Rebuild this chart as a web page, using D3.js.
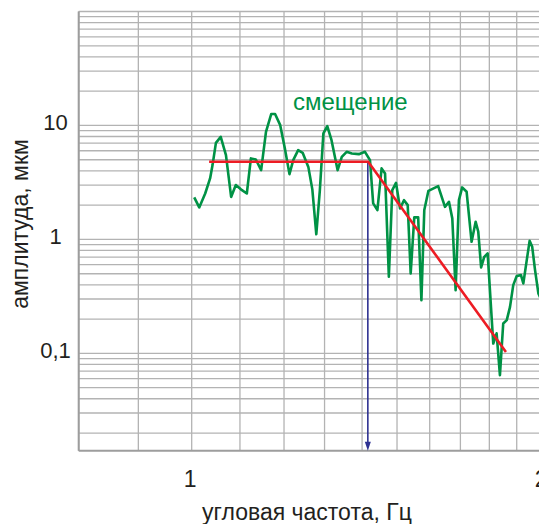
<!DOCTYPE html>
<html>
<head>
<meta charset="utf-8">
<script src="https://cdnjs.cloudflare.com/ajax/libs/d3/7.8.5/d3.min.js"></script>
<style>
  body { margin: 0; background: #fff; overflow: hidden; }
  text { font-family: "Liberation Sans", Arial, sans-serif; fill: #231f20; }
</style>
</head>
<body>
<svg class="chart"></svg>
<script>
// measured spectrum (angular frequency, Hz)
var freq = [1.005, 1.015, 1.027, 1.037, 1.042, 1.049, 1.059, 1.070, 1.081, 1.091,
  1.102, 1.115, 1.124, 1.135, 1.147, 1.158, 1.170, 1.179, 1.191, 1.202,
  1.213, 1.222, 1.234, 1.245, 1.259, 1.269, 1.279, 1.288, 1.297, 1.307,
  1.318, 1.334, 1.345, 1.358, 1.372, 1.391, 1.408, 1.422, 1.431, 1.443,
  1.455, 1.465, 1.476, 1.486, 1.497, 1.509, 1.521, 1.532, 1.541, 1.552,
  1.564, 1.574, 1.583, 1.596, 1.627, 1.649, 1.662, 1.673, 1.684, 1.695,
  1.706, 1.721, 1.738, 1.752, 1.761, 1.771, 1.782, 1.794, 1.814, 1.826,
  1.838, 1.850, 1.863, 1.875, 1.887, 1.900, 1.916, 1.925, 1.938, 1.949,
  1.959, 1.970, 1.983, 1.995];
// displacement amplitude, um
var ampl = [2.34, 1.91, 2.53, 3.43, 4.49, 7.04, 7.94, 5.49, 2.36, 3.00,
  2.75, 2.53, 5.14, 5.03, 4.05, 8.79, 12.6, 12.6, 10.06, 6.28,
  3.74, 4.96, 6.07, 5.75, 4.33, 2.75, 1.11, 2.71, 8.51, 9.86,
  7.43, 4.05, 5.30, 5.87, 5.68, 5.60, 5.87, 4.96, 2.07, 1.81,
  4.20, 3.79, 0.470, 2.71, 3.14, 1.87, 2.21, 2.00, 0.503, 1.56,
  1.56, 0.293, 1.81, 2.67, 2.94, 1.93, 2.14, 1.53, 0.359, 2.21,
  2.86, 2.62, 0.953, 1.43, 1.17, 0.568, 0.703, 0.754, 0.122, 0.150,
  0.0645, 0.183, 0.196, 0.256, 0.397, 0.477, 0.486, 0.411, 0.658, 0.972,
  0.861, 0.538, 0.336, 0.293];

// fitted asymptotes
var fitFreq = [1.035, 1.417, 1.860];
var fitAmpl = [4.8, 4.8, 0.103];

// corner frequency marker
var cornerFreq = 1.416;
var cornerAmpl = 4.8;

var yTicks = [10, 1, 0.1];
var yTickLabels = ["10", "1", "0,1"];
var xTicks = [1, 2];
var xTickLabels = ["1", "2"];

var width = 539,
  height = 524,
  plotLeft = 78.7,
  plotTop = 11.5,
  plotBottom = 450.7,
  decadeX = 1166;

var xMin = 0.8, xMax = 2.1;
var x = d3.scaleLog()
  .domain([xMin, xMax])
  .range([plotLeft, plotLeft + decadeX * Math.log10(xMax / xMin)]);

var y = d3.scaleLog()
  .domain([0.014, 100])
  .range([plotBottom, plotTop]);

var chart = d3.select(".chart").attr("width", width).attr("height", height);

// grid
var vLines = d3.range(8, 21).map(function(k) { return k / 10; });
var hLines = [];
[0.01, 0.1, 1, 10].forEach(function(p) {
  for (var k = 1; k <= 9; k++) {
    var v = k * p;
    if (v >= 0.014 && v <= 100) hLines.push(v);
  }
});
hLines.push(100);

chart.append("g").selectAll("line")
  .data(hLines)
  .enter()
  .append("line")
  .attr("x1", plotLeft)
  .attr("x2", width)
  .attr("y1", function(d) { return y(d); })
  .attr("y2", function(d) { return y(d); })
  .attr("stroke", "#b3b3b3")
  .attr("stroke-width", 1.3);

chart.append("g").selectAll("line")
  .data(vLines)
  .enter()
  .append("line")
  .attr("x1", function(d) { return x(d); })
  .attr("x2", function(d) { return x(d); })
  .attr("y1", y(100))
  .attr("y2", plotBottom)
  .attr("stroke", "#b3b3b3")
  .attr("stroke-width", 1.3);

// frame (left and bottom)
chart.append("line")
  .attr("x1", plotLeft).attr("x2", plotLeft)
  .attr("y1", y(100)).attr("y2", plotBottom)
  .attr("stroke", "#9d9d9d").attr("stroke-width", 2);
chart.append("line")
  .attr("x1", plotLeft).attr("x2", width)
  .attr("y1", plotBottom).attr("y2", plotBottom)
  .attr("stroke", "#9d9d9d").attr("stroke-width", 2);

// tick labels
chart.append("g").selectAll("text")
  .data(yTicks)
  .enter()
  .append("text")
  .attr("x", 55.5)
  .attr("y", function(d) { return y(d) - 3.5; })
  .attr("dy", "0.36em")
  .attr("text-anchor", "middle")
  .attr("font-size", 22)
  .text(function(d, i) { return yTickLabels[i]; });

chart.append("g").selectAll("text")
  .data(xTicks)
  .enter()
  .append("text")
  .attr("x", function(d) { return x(d) - 1.5; })
  .attr("y", 487)
  .attr("text-anchor", "middle")
  .attr("font-size", 23)
  .text(function(d, i) { return xTickLabels[i]; });

// axis titles
chart.append("text")
  .attr("transform", "translate(28," + 224 + ") rotate(-90)")
  .attr("text-anchor", "middle")
  .attr("font-size", 23)
  .text("амплитуда, мкм");

chart.append("text")
  .attr("x", 307)
  .attr("y", 520)
  .attr("text-anchor", "middle")
  .attr("font-size", 23)
  .text("угловая частота, Гц");

// blue marker arrow
chart.append("line")
  .attr("x1", x(cornerFreq)).attr("x2", x(cornerFreq))
  .attr("y1", y(cornerAmpl)).attr("y2", plotBottom - 4)
  .attr("stroke", "#2e3192")
  .attr("stroke-width", 1.6);
chart.append("path")
  .attr("d", "M" + (x(cornerFreq) - 3) + "," + (plotBottom - 9) + "l6,0 l-3,9 z")
  .attr("fill", "#2e3192");

// measured curve
var pts = freq.map(function(f, i) { return [f, ampl[i]]; });
var line = d3.line()
  .x(function(d) { return x(d[0]); })
  .y(function(d) { return y(d[1]); });

chart.append("path")
  .datum(pts)
  .attr("d", line)
  .attr("fill", "none")
  .attr("stroke", "#009245")
  .attr("stroke-width", 2.6)
  .attr("stroke-linejoin", "round");

// fit lines
chart.append("path")
  .datum(fitFreq.map(function(f, i) { return [f, fitAmpl[i]]; }))
  .attr("d", line)
  .attr("fill", "none")
  .attr("stroke", "#ed1c24")
  .attr("stroke-width", 2.6);

chart.append("text")
  .attr("x", 293)
  .attr("y", 110)
  .attr("font-size", 24)
  .style("fill", "#009245")
  .text("смещение");
</script>
</body>
</html>
